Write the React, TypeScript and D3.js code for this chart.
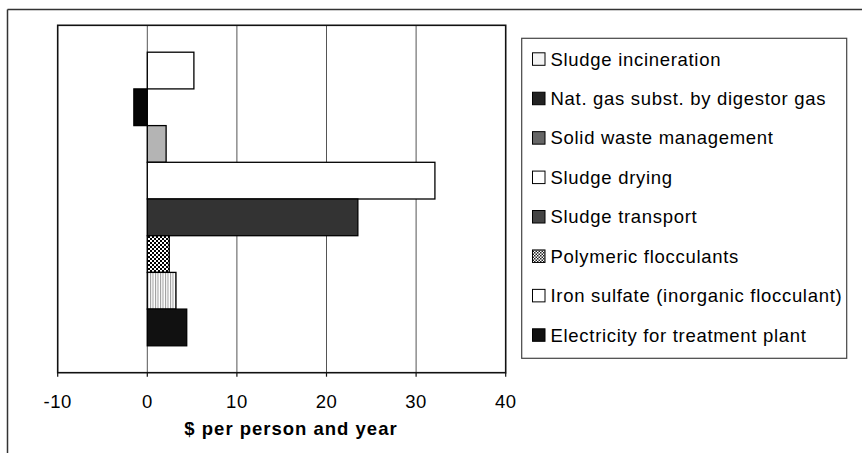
import React from "react";
import * as d3 from "d3";

const categories = [
  "Sludge incineration",
  "Nat. gas subst. by digestor gas",
  "Solid waste management",
  "Sludge drying",
  "Sludge transport",
  "Polymeric flocculants",
  "Iron sulfate (inorganic flocculant)",
  "Electricity for treatment plant",
];
const values = [5.2, -1.5, 2.1, 32.1, 23.5, 2.45, 3.2, 4.4];
const xTicks = [-10, 0, 10, 20, 30, 40];
const barFills = ["#ffffff", "#050505", "#b4b4b4", "#ffffff", "#333333", "url(#checker)", "url(#vlines)", "#111111"];
const legendFills = ["#f4f4f4", "#222222", "#666666", "#ffffff", "#444444", "url(#checkerS)", "#ffffff", "#111111"];

const W = 862;
const H = 453;
const plot = { left: 57.7, right: 505.7, top: 25.3, bottom: 372.7 };
const FONT = "Liberation Sans, Arial, sans-serif";

export default function App() {
  const x = d3.scaleLinear().domain([-10, 40]).range([plot.left, plot.right]);
  const y = d3
    .scaleBand<string>()
    .domain(categories)
    .range([plot.top, plot.bottom])
    .paddingInner(0)
    .paddingOuter(0.733);
  const legendY = d3.scalePoint<string>().domain(categories).range([59, 335]);

  return (
    <div style={{ position: "absolute", left: 0, top: 0, width: W, height: H, overflow: "hidden" }}>
      <svg width={W} height={H} style={{ display: "block", background: "#fff" }}>
        <defs>
          <pattern id="checker" width="4" height="4" patternUnits="userSpaceOnUse">
            <rect width="4" height="4" fill="#fff" />
            <rect width="2" height="2" fill="#000" />
            <rect x="2" y="2" width="2" height="2" fill="#000" />
          </pattern>
          <pattern id="checkerS" width="3" height="3" patternUnits="userSpaceOnUse">
            <rect width="3" height="3" fill="#fff" />
            <rect width="1.5" height="1.5" fill="#222" />
            <rect x="1.5" y="1.5" width="1.5" height="1.5" fill="#222" />
          </pattern>
          <pattern id="vlines" width="2.5" height="4" patternUnits="userSpaceOnUse">
            <rect width="2.5" height="4" fill="#fff" />
            <rect width="1" height="4" fill="#9a9a9a" />
          </pattern>
        </defs>
        {/* outer frame: only top and left edges are visible */}
        <line x1={7.5} x2={W} y1={9.5} y2={9.5} stroke="#333" strokeWidth={1.5} />
        <line x1={7.5} x2={7.5} y1={9.5} y2={H} stroke="#333" strokeWidth={1.5} />
        {/* gridlines */}
        {xTicks.slice(1, -1).map((t) => (
          <line key={t} x1={x(t)} x2={x(t)} y1={plot.top} y2={plot.bottom} stroke="#555" strokeWidth={1} />
        ))}
        {/* bars */}
        {categories.map((c, i) => {
          const v = values[i];
          const x0 = x(Math.min(0, v));
          const x1 = x(Math.max(0, v));
          return (
            <rect
              key={c}
              x={x0}
              y={y(c)!}
              width={x1 - x0}
              height={y.bandwidth()}
              fill={barFills[i]}
              stroke="#000"
              strokeWidth={1.3}
            />
          );
        })}
        {/* plot frame */}
        <rect
          x={plot.left}
          y={plot.top}
          width={plot.right - plot.left}
          height={plot.bottom - plot.top}
          fill="none"
          stroke="#111"
          strokeWidth={1.6}
        />
        {/* ticks */}
        {xTicks.map((t) => (
          <g key={t}>
            <line x1={x(t)} x2={x(t)} y1={plot.bottom} y2={plot.bottom + 4} stroke="#111" strokeWidth={1.2} />
            <text
              x={x(t)}
              y={408}
              textAnchor="middle"
              fontFamily={FONT}
              fontSize={18.5}
              letterSpacing={0.5}
              fill="#000"
            >
              {t}
            </text>
          </g>
        ))}
        <text
          x={291}
          y={435}
          textAnchor="middle"
          fontFamily={FONT}
          fontSize={18.5}
          fontWeight="bold"
          letterSpacing={1}
          fill="#000"
        >
          $ per person and year
        </text>
        {/* legend */}
        <rect x={521.7} y={38.3} width={325} height={320} fill="#fff" stroke="#444" strokeWidth={1.2} />
        {categories.map((c, i) => {
          const cy = legendY(c)!;
          return (
            <g key={c}>
              <rect
                x={532.5}
                y={cy - 6.2}
                width={12.5}
                height={12.5}
                fill={legendFills[i]}
                stroke="#000"
                strokeWidth={1}
              />
              <text
                x={550.5}
                y={cy + 6.5}
                fontFamily={FONT}
                fontSize={18.5}
                letterSpacing={0.7}
                fill="#000"
              >
                {c}
              </text>
            </g>
          );
        })}
      </svg>
    </div>
  );
}
